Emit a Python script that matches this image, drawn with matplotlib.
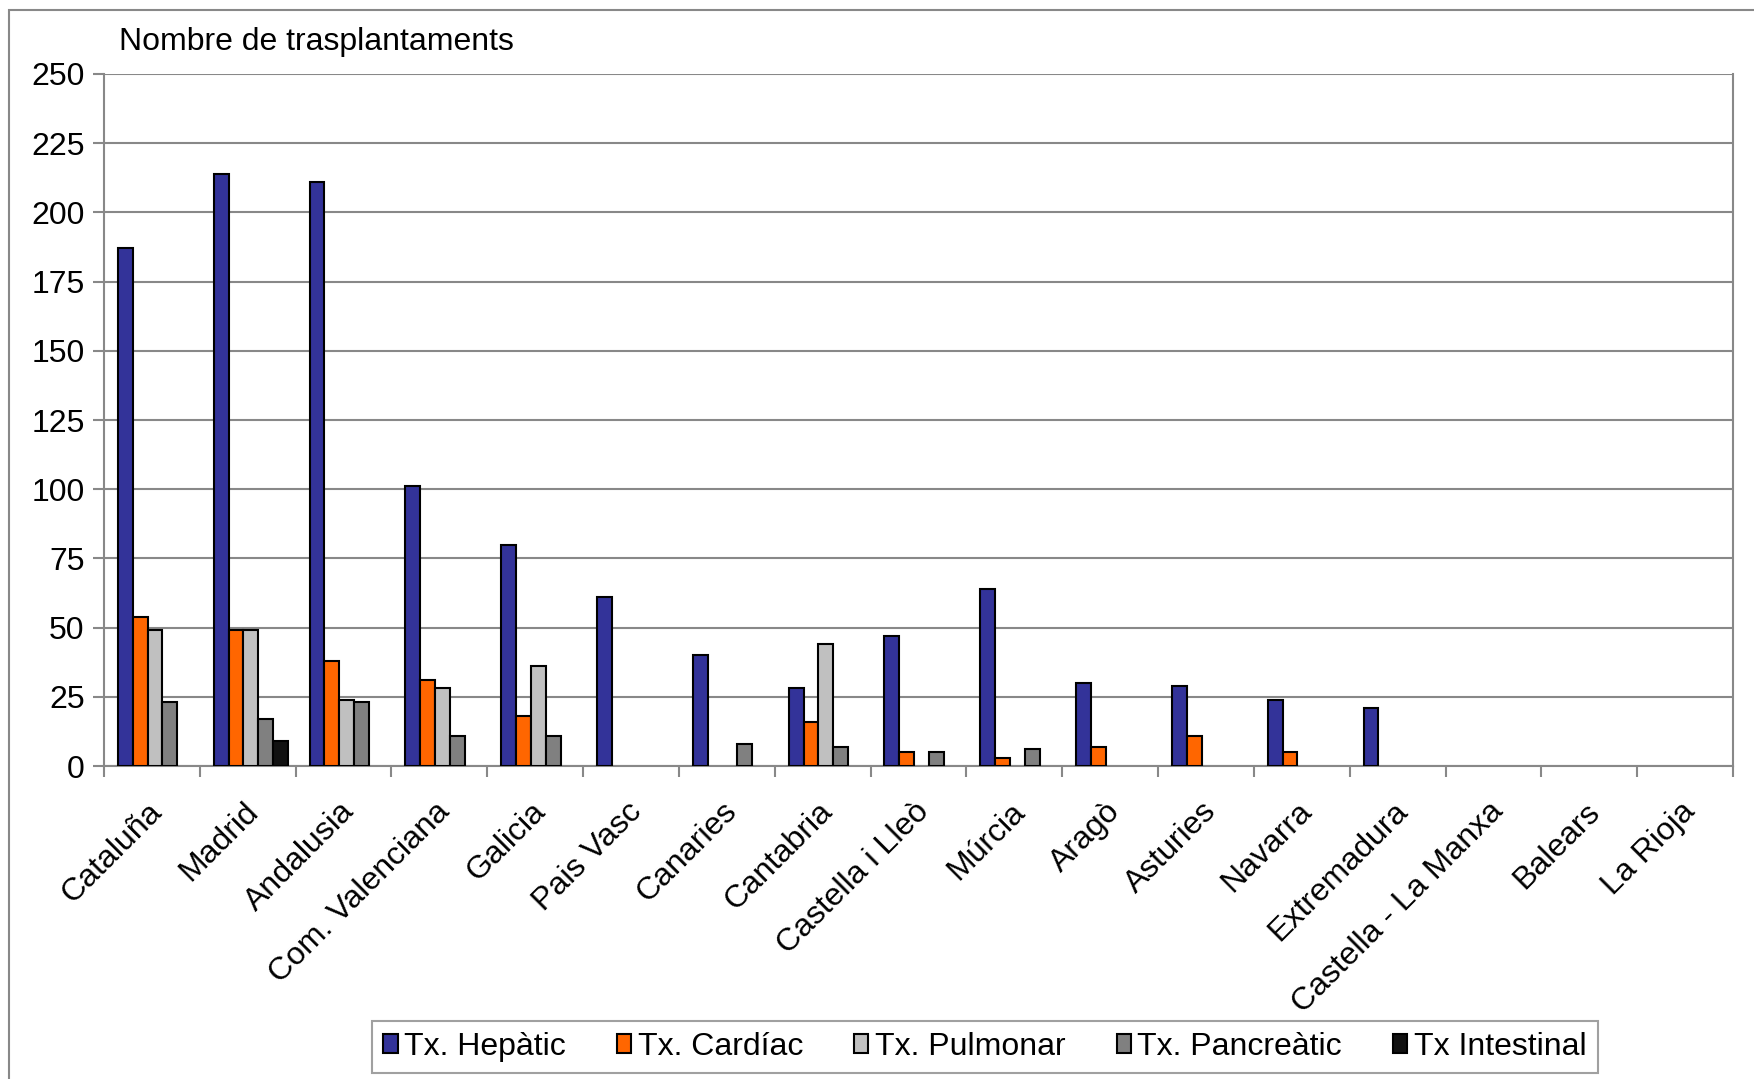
import numpy as np
import matplotlib
matplotlib.use("Agg")
import matplotlib.pyplot as plt
from matplotlib.patches import Rectangle, Patch

plt.rcParams['font.family'] = ['Liberation Sans', 'DejaVu Sans']

categories = ["Cataluña", "Madrid", "Andalusia", "Com. Valenciana", "Galicia",
              "Pais Vasc", "Canaries", "Cantabria", "Castella i Lleò", "Múrcia",
              "Aragò", "Asturies", "Navarra", "Extremadura",
              "Castella - La Manxa", "Balears", "La Rioja"]
hepatic = [187, 214, 211, 101, 80, 61, 40, 28, 47, 64, 30, 29, 24, 21, 0, 0, 0]
cardiac = [54, 49, 38, 31, 18, 0, 0, 16, 5, 3, 7, 11, 5, 0, 0, 0, 0]
pulmonar = [49, 49, 24, 28, 36, 0, 0, 44, 0, 0, 0, 0, 0, 0, 0, 0, 0]
pancreatic = [23, 17, 23, 11, 11, 0, 8, 7, 5, 6, 0, 0, 0, 0, 0, 0, 0]
intestinal = [0, 9, 0, 0, 0, 0, 0, 0, 0, 0, 0, 0, 0, 0, 0, 0, 0]
series_names = ["Tx. Hepàtic", "Tx. Cardíac", "Tx. Pulmonar", "Tx. Pancreàtic", "Tx Intestinal"]
yticks = [0, 25, 50, 75, 100, 125, 150, 175, 200, 225, 250]

series = [hepatic, cardiac, pulmonar, pancreatic, intestinal]
colors = ["#333399", "#FF6600", "#C0C0C0", "#808080", "#111111"]

FS = 23

fig = plt.figure(figsize=(17.54, 10.79), dpi=100)
ax = fig.add_axes([104/1754, 1-766/1079, (1733-104)/1754, (766-74)/1079])

# outer chart border
fig.patches.append(Rectangle((9/1754, -0.05), 1.1, 1-10/1079 + 0.05, transform=fig.transFigure,
                             fill=False, edgecolor="#888888", linewidth=1.5))

n = len(categories)
x = np.arange(n)
w = 0.155
offset0 = -0.5 + 0.145
handles = []
for i, (vals, c, name) in enumerate(zip(series, colors, series_names)):
    bars = ax.bar(x + offset0 + i * w, vals, width=w, align='edge', color=c,
                  edgecolor='black', linewidth=1.5, zorder=3)
    for b, v in zip(bars, vals):
        if v == 0:
            b.set_visible(False)
    handles.append(Patch(facecolor=c, edgecolor='black', linewidth=1.5, label=name))

ax.set_xlim(-0.5, n - 0.5)
ax.set_ylim(0, 250)
ax.set_yticks(yticks)
ax.yaxis.grid(True, color="#888888", linewidth=1.5, zorder=0)
ax.set_axisbelow(True)

ax.set_xticks(np.arange(n + 1) - 0.5)
ax.set_xticklabels([])
ax.set_xticks(x - 0.05, minor=True)
ax.set_xticklabels(categories, minor=True, rotation=45, ha='right',
                   rotation_mode='anchor', fontsize=FS)
ax.tick_params(axis='x', which='minor', length=0, pad=22)
ax.tick_params(axis='x', which='major', length=8, width=1.5, color="#888888")
ax.tick_params(axis='y', length=8, width=1.5, color="#888888", labelsize=FS, pad=6)

for s in ['left', 'right', 'bottom']:
    ax.spines[s].set_color("#888888")
    ax.spines[s].set_linewidth(1.5)
ax.spines['top'].set_visible(False)

fig.text(119/1754, 1-42/1079, "Nombre de trasplantaments", fontsize=FS,
         ha='left', va='center')

leg = fig.legend(handles=handles, loc='center', bbox_to_anchor=(0.5615, 1-1047/1079), ncol=5,
                 fontsize=FS, frameon=True, fancybox=False, handlelength=0.45,
                 handleheight=0.55, handletextpad=0.2, columnspacing=1.6,
                 borderpad=0.35, borderaxespad=0)
leg.get_frame().set_edgecolor("#888888")
leg.get_frame().set_linewidth(1.5)

fig.savefig("out.png", dpi=100)
